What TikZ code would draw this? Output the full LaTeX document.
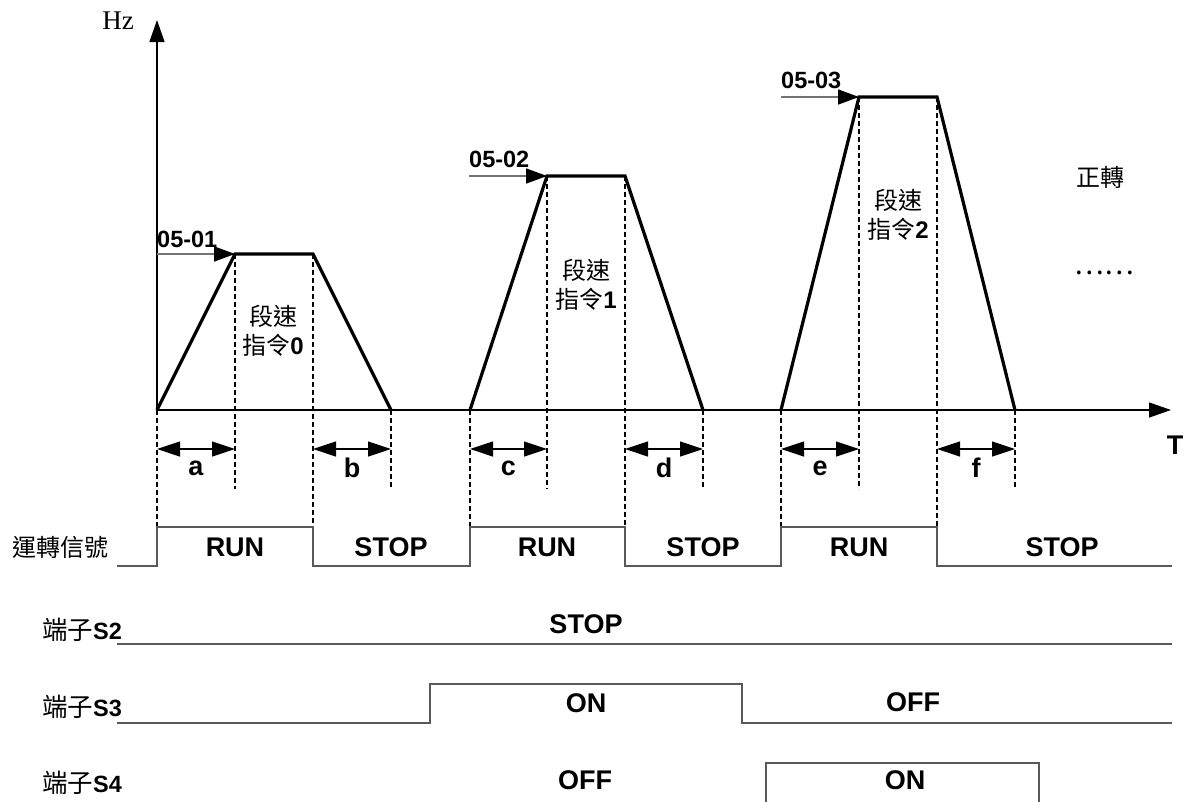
\documentclass[tikz,border=0pt]{standalone}
\usepackage{fontspec}
\setmainfont{Liberation Sans}
\newfontfamily\cjk{Noto Sans CJK TC}
\newfontfamily\serifhz{Liberation Serif}
\usetikzlibrary{arrows.meta,calc}
\begin{document}
\begin{tikzpicture}[x=1pt,y=-1pt,
  trap/.style={line width=3.2pt, line join=miter},
  axisline/.style={line width=1.3pt, -{Triangle[length=22pt,width=15pt]}},
  guide/.style={line width=1.2pt, dash pattern=on 5pt off 3pt},
  dim/.style={line width=1.2pt, {Triangle[length=23pt,width=15pt]}-{Triangle[length=23pt,width=15pt]}},
  refarrow/.style={line width=1.6pt, draw=black!55, -{Triangle[length=21pt,width=15pt,color=black]}},
  sig/.style={line width=1.4pt, draw=black!65},
  lbl/.style={font=\fontsize{27}{30}\selectfont\bfseries, inner sep=0pt},
  num/.style={font=\fontsize{23.5}{26}\selectfont\bfseries, inner sep=0pt, anchor=base west},
  side/.style={font=\fontsize{23.5}{26}\selectfont\bfseries, inner sep=0pt, anchor=west},
  cjklbl/.style={font=\fontsize{24}{29}\selectfont\cjk, inner sep=0pt, align=center},
]
\useasboundingbox (0,0) rectangle (1191,801);
\fill[white] (0,0) rectangle (1191,801);

% key points
\coordinate (O) at (157,410);
\coordinate (ytip) at (157,20);
\coordinate (xtip) at (1171,410);
\coordinate (s1) at (157,410); \coordinate (u1) at (235,254); \coordinate (v1) at (313,254); \coordinate (e1) at (391,410);
\coordinate (s2) at (470,410); \coordinate (u2) at (547,176); \coordinate (v2) at (625,176); \coordinate (e2) at (703,410);
\coordinate (s3) at (781,410); \coordinate (u3) at (859,97);  \coordinate (v3) at (937,97);  \coordinate (e3) at (1015,410);
\coordinate (k1) at (157,254); \coordinate (k2) at (469,176); \coordinate (k3) at (781,97);

% axes
\draw[axisline] (O) -- (ytip);
\draw[axisline] (O) -- (xtip);
\node[font=\fontsize{27}{30}\selectfont\serifhz, inner sep=0pt, anchor=base] (hz) at (118,29) {Hz};
\node[lbl] (T) at (1175,445) {T};

% guide lines
\foreach \n in {1,2,3} {
  \draw[guide] (s\n) -- (s\n |- 0,527);
  \draw[guide] (v\n) -- (v\n |- 0,527);
  \draw[guide] (u\n) -- (u\n |- 0,489);
  \draw[guide] (e\n) -- (e\n |- 0,489);
}

% trapezoids
\foreach \n in {1,2,3} {
  \draw[trap] (s\n) -- (u\n) -- (v\n) -- (e\n);
}

% reference arrows
\draw[refarrow] (k1) -- (u1);
\draw[refarrow] (k2) -- (u2);
\draw[refarrow] (k3) -- (u3);
\node[num] (n1) at (157,247) {05-01};
\node[num] (n2) at (469,167) {05-02};
\node[num] (n3) at (781,88) {05-03};

% step labels
\node[cjklbl] (t1) at (273,331) {段速\\指令\textbf{\fontspec{Liberation Sans}0}};
\node[cjklbl] (t2) at (586,285) {段速\\指令\textbf{\fontspec{Liberation Sans}1}};
\node[cjklbl] (t3) at (898,215) {段速\\指令\textbf{\fontspec{Liberation Sans}2}};
\node[cjklbl] (fw) at (1100,177) {正轉};
\node[cjklbl, font=\fontsize{28}{30}\selectfont\cjk] (dots) at (1104,273) {……};

% dimension arrows
\foreach \a/\b/\l in {s1/u1/a, v1/e1/b, s2/u2/c, v2/e2/d, s3/u3/e, v3/e3/f} {
  \draw[dim] (\a |- 0,449) coordinate (\l L) -- (\b |- 0,449) coordinate (\l R);
  \node[lbl] (lab\l) at ($(\l L)!0.5!(\l R) + (0,19)$) {\l};
}

% run signal
\draw[sig] (117,566) coordinate (run0) -- (157,566) -- (157,527) -- (313,527) -- (313,566) -- (470,566) -- (470,527) -- (625,527) -- (625,566) -- (781,566) -- (781,527) -- (937,527) -- (937,566) -- (1172,566);
\node[cjklbl, anchor=west] (runlbl) at (12,547) {運轉信號};
\node[lbl] at (235,547) {RUN};
\node[lbl] at (391,547) {STOP};
\node[lbl] at (547,547) {RUN};
\node[lbl] at (703,547) {STOP};
\node[lbl] at (859,547) {RUN};
\node[lbl] at (1062,547) {STOP};

% S2
\draw[sig] (117,644) -- (1172,644);
\node[side] (ls2) at (42,630) {{\fontsize{25.5}{28}\selectfont\cjk\mdseries 端子}S2};
\node[lbl] at (586,624) {STOP};

% S3
\draw[sig] (117,723) -- (430,723) -- (430,684) -- (742,684) -- (742,723) -- (1172,723);
\node[side] (ls3) at (42,707) {{\fontsize{25.5}{28}\selectfont\cjk\mdseries 端子}S3};
\node[lbl] at (586,703) {ON};
\node[lbl] at (913,702) {OFF};

% S4
\draw[sig] (766,803) -- (766,763) -- (1039,763) -- (1039,803);
\node[side] (ls4) at (42,783) {{\fontsize{25.5}{28}\selectfont\cjk\mdseries 端子}S4};
\node[lbl] at (585,780) {OFF};
\node[lbl] at (905,780) {ON};
\end{tikzpicture}
\end{document}
